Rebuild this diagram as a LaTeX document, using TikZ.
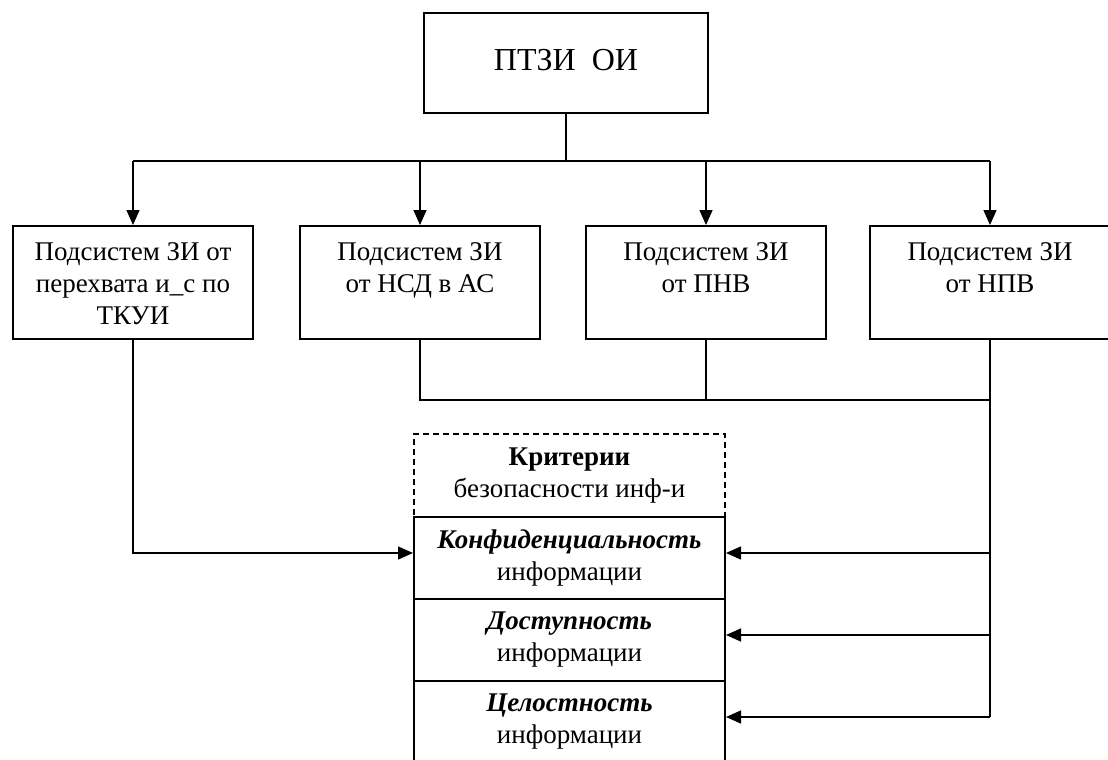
\documentclass[tikz,border=0pt]{standalone}
\usepackage{fontspec}
\setmainfont{Liberation Serif}
\usetikzlibrary{arrows.meta}

% text of the four subsystem boxes sits at the top of the box
\newcommand{\subtext}[1]{\parbox[t][50pt][t]{116pt}{\centering\vspace*{5pt}#1}}

\tikzset{
  box/.style={draw, line width=1pt, inner sep=0pt},
  subbox/.style={box, minimum width=120pt, minimum height=56.5pt, anchor=north,
    font=\fontsize{13.5}{16}\selectfont},
  critrow/.style={box, minimum width=155.5pt, minimum height=41pt, align=center,
    font=\fontsize{13.5}{16}\selectfont},
  link/.style={line width=0.75pt},
  arr/.style={link, -{Triangle[length=7.5pt, width=6.5pt]}}
}

\begin{document}
\begin{tikzpicture}[x=0.5pt, y=-0.5pt]
  \useasboundingbox (0,0) rectangle (1108,760);

  % top
  \node[box, minimum width=142pt, minimum height=50pt,
    font=\fontsize{16}{18}\selectfont] (ptzi) at (566,63) {\raisebox{3pt}{ПТЗИ\ \ ОИ}};

  % subsystems
  \node[subbox] (sub1) at (133,225) {\subtext{Подсистем ЗИ от\\ перехвата и\_с по\\ ТКУИ}};
  \node[subbox] (sub2) at (420,225) {\subtext{Подсистем ЗИ\\ от НСД в АС}};
  \node[subbox] (sub3) at (706,225) {\subtext{Подсистем ЗИ\\ от ПНВ}};
  \node[subbox] (sub4) at (990,225) {\subtext{Подсистем ЗИ\\ от НПВ}};

  % criteria
  \node[critrow, dashed, dash pattern=on 3pt off 2pt, minimum height=41.5pt]
    (crit) at (569.5,475.5) {\textbf{Критерии}\\ безопасности инф-и};
  \node[critrow] (conf) at (569.5,558) {\textbf{\textit{Конфиденциальность}}\\ информации};
  \node[critrow] (dost) at (569.5,640) {\textbf{\textit{Доступность}}\\ информации};
  \node[critrow] (cel) at (569.5,722) {\textbf{\textit{Целостность}}\\ информации};

  \coordinate (fork) at (566,161);
  \coordinate (join) at (990,400);

  % links
  \draw[link] (ptzi.south) -- (fork);
  \draw[link] (sub1.north |- fork) -- (sub4.north |- fork);
  \foreach \s in {sub1,sub2,sub3,sub4}
    \draw[arr] (\s.north |- fork) -- (\s.north);

  \draw[link] (sub2.south) |- (join);
  \draw[link] (sub3.south) -- (sub3.south |- join);
  \draw[link] (sub4.south) -- ([yshift=2.5pt]sub4.south |- cel.east);
  \foreach \r in {conf,dost,cel}
    \draw[arr] ([yshift=2.5pt]sub4.south |- \r.east) -- ([yshift=2.5pt]\r.east);
  \draw[arr] (sub1.south) |- ([yshift=2.5pt]conf.west);
\end{tikzpicture}
\end{document}
